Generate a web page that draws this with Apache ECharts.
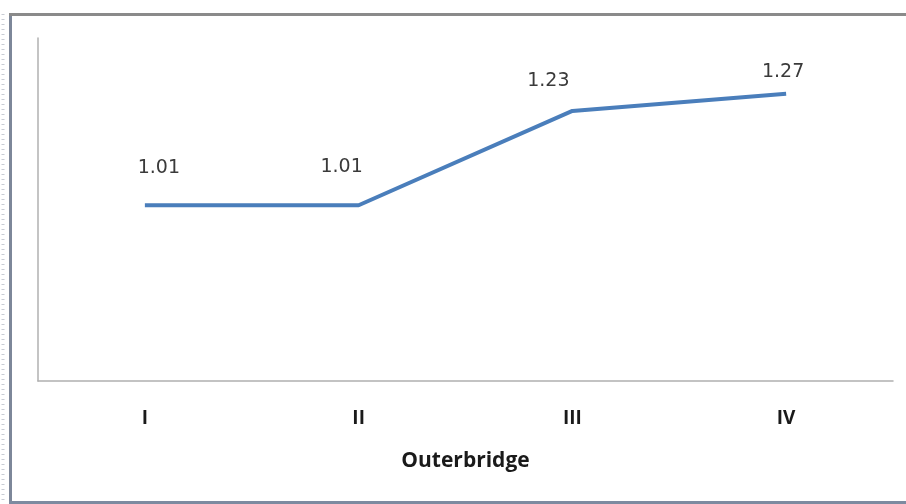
<!DOCTYPE html>
<html>
<head>
<meta charset="utf-8">
<script src="https://cdn.jsdelivr.net/npm/echarts@6/dist/echarts.min.js"></script>
<style>
  html, body { margin: 0; padding: 0; background: #ffffff; }
  #chart { width: 906px; height: 504px; }
</style>
</head>
<body>
<div id="chart"></div>
<script>
// Quarterly values for Outerbridge
const categories = ['I', 'II', 'III', 'IV'];
const values = [1.01, 1.01, 1.23, 1.27];
const axisTitle = 'Outerbridge';

// Label nudges (dx, dy from each point, in px)
const labelShift = [[14, -37], [-17, -38], [-24, -30], [-3, -22]];

const chart = echarts.init(document.getElementById('chart'), null, { renderer: 'canvas' });

const seriesData = values.map((v, i) => ({
  value: v,
  label: { offset: labelShift[i] }
}));

chart.setOption({
  animation: false,
  backgroundColor: '#ffffff',
  grid: { left: 38, top: 38, right: 13, bottom: 123, containLabel: false },
  xAxis: {
    type: 'category',
    data: categories,
    boundaryGap: true,
    name: axisTitle,
    nameLocation: 'middle',
    nameGap: 70,
    nameTextStyle: { fontFamily: 'Open Sans', fontWeight: 'bold', fontSize: 21, color: '#1a1a1a' },
    axisLine: { lineStyle: { color: '#b0b0b0', width: 1.5 } },
    axisTick: { show: false },
    axisLabel: { margin: 28, fontFamily: 'Open Sans', fontWeight: 'bold', fontSize: 19, color: '#1a1a1a' },
    splitLine: { show: false }
  },
  yAxis: {
    type: 'value',
    min: 0.6,
    max: 1.4,
    axisLine: { show: true, lineStyle: { color: '#b0b0b0', width: 1.5 } },
    axisTick: { show: false },
    axisLabel: { show: false },
    splitLine: { show: false }
  },
  series: [{
    type: 'line',
    data: seriesData,
    symbol: 'circle',
    symbolSize: 0.1,
    showSymbol: true,
    itemStyle: { color: 'rgba(0,0,0,0)' },
    lineStyle: { color: '#4a7ebb', width: 4 },
    label: {
      show: true,
      position: 'inside',
      align: 'center',
      verticalAlign: 'middle',
      fontFamily: 'DejaVu Sans',
      fontSize: 19,
      color: '#3a3a3a'
    },
    emphasis: { disabled: true }
  }],
  graphic: [
    // outer frame: dotted strip, left edge, top and bottom rules
    { type: 'line', shape: { x1: 3, y1: 14, x2: 3, y2: 504 }, style: { stroke: '#c8ccd4', lineWidth: 3, lineDash: [1, 4] } },
    { type: 'line', shape: { x1: 10.5, y1: 14, x2: 10.5, y2: 504 }, style: { stroke: '#7d8799', lineWidth: 3 } },
    { type: 'line', shape: { x1: 9, y1: 14.5, x2: 906, y2: 14.5 }, style: { stroke: '#8a8a8a', lineWidth: 3 } },
    { type: 'line', shape: { x1: 9, y1: 502.5, x2: 906, y2: 502.5 }, style: { stroke: '#7d8aa0', lineWidth: 3 } }
  ]
});
</script>
</body>
</html>
